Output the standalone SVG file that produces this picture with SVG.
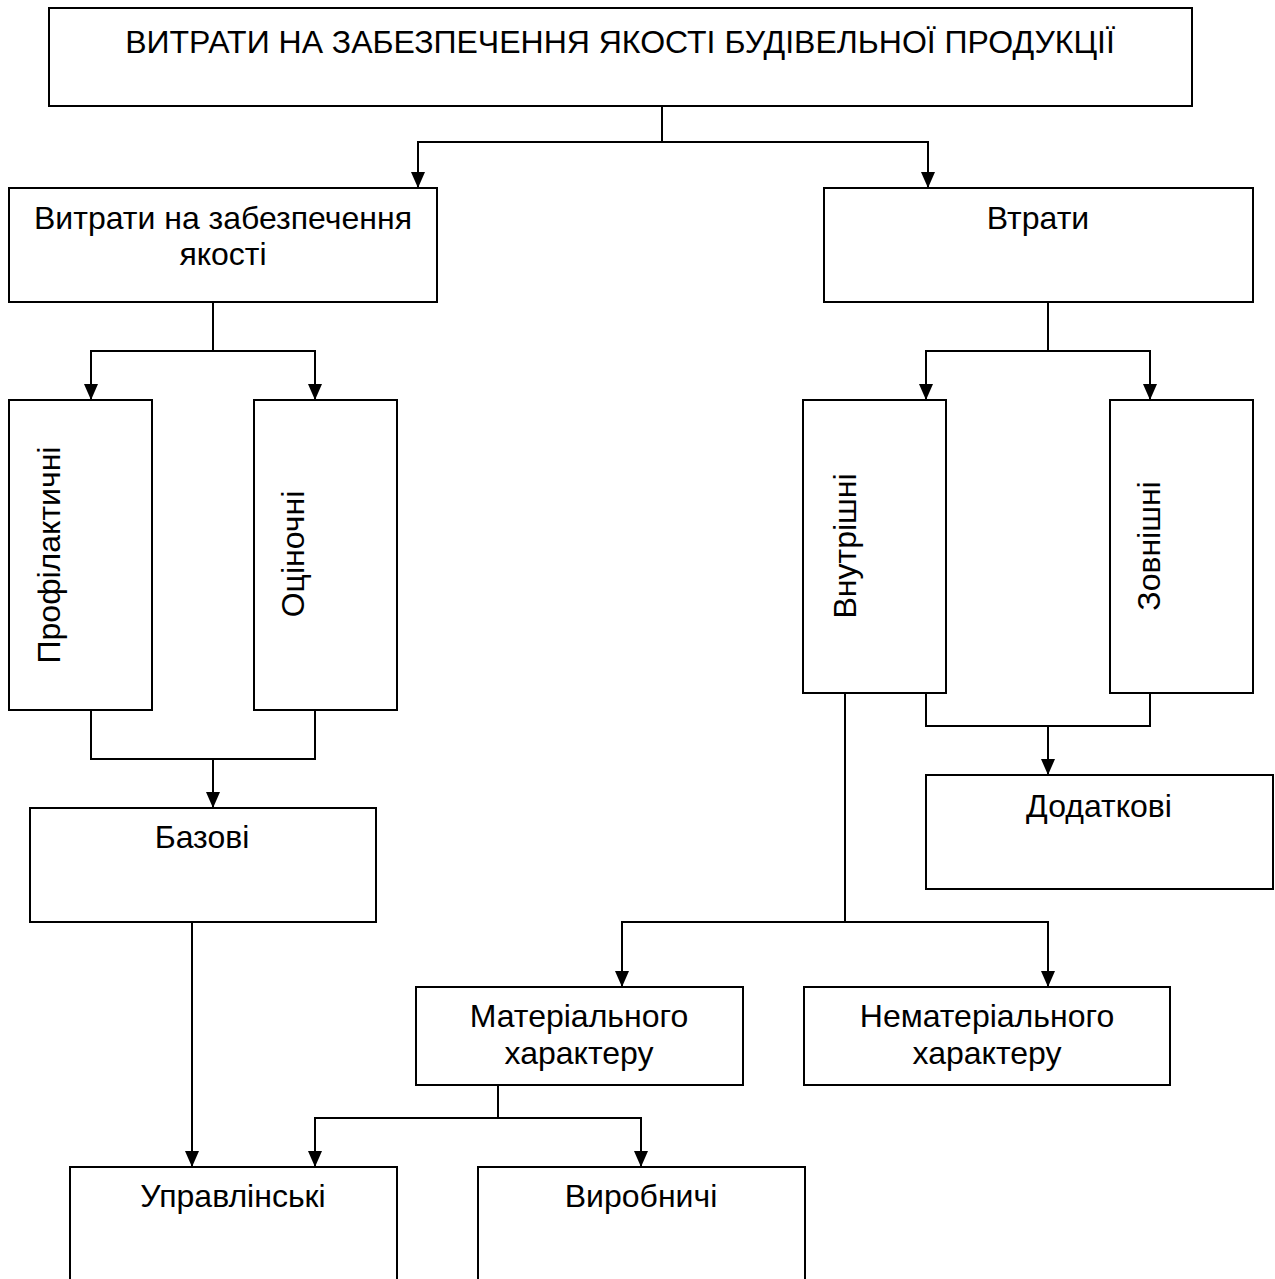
<svg xmlns="http://www.w3.org/2000/svg" width="1275" height="1279" viewBox="0 0 1275 1279">
  <style>
    .box { fill: #ffffff; stroke: #000000; stroke-width: 2; }
    .lbl { font-family: "Liberation Sans", Arial, sans-serif; font-size: 32px; fill: #000000; text-anchor: middle; }
    .wire { fill: none; stroke: #000000; stroke-width: 2; }
  </style>
  <defs>
    <marker id="arrow" viewBox="0 0 16 14" refX="16" refY="7" markerWidth="16" markerHeight="14" markerUnits="userSpaceOnUse" orient="auto">
      <path d="M0,0 L16,7 L0,14 z" fill="#000000"/>
    </marker>
  </defs>
  <rect width="1275" height="1279" fill="#ffffff"/>

  <!-- connectors -->
  <g id="connectors">
    <path class="wire" d="M662,106 V142 H418 V188" marker-end="url(#arrow)"/>
    <path class="wire" d="M662,142 H928 V188" marker-end="url(#arrow)"/>
    <path class="wire" d="M213,302 V351 H91 V400" marker-end="url(#arrow)"/>
    <path class="wire" d="M213,351 H315 V400" marker-end="url(#arrow)"/>
    <path class="wire" d="M1048,302 V351 H926 V400" marker-end="url(#arrow)"/>
    <path class="wire" d="M1048,351 H1150 V400" marker-end="url(#arrow)"/>
    <path class="wire" d="M91,710 V759 H315 V710"/>
    <path class="wire" d="M213,759 V808" marker-end="url(#arrow)"/>
    <path class="wire" d="M926,693 V726 H1150 V693"/>
    <path class="wire" d="M1048,726 V775" marker-end="url(#arrow)"/>
    <path class="wire" d="M845,693 V922 H622 V987" marker-end="url(#arrow)"/>
    <path class="wire" d="M845,922 H1048 V987" marker-end="url(#arrow)"/>
    <path class="wire" d="M498,1085 V1118 H315 V1167" marker-end="url(#arrow)"/>
    <path class="wire" d="M498,1118 H641 V1167" marker-end="url(#arrow)"/>
    <path class="wire" d="M192,922 V1167" marker-end="url(#arrow)"/>
  </g>

  <!-- nodes -->
  <g id="node-root">
    <rect class="box" x="49" y="8" width="1143" height="98"/>
    <text class="lbl" x="620" y="53">ВИТРАТИ НА ЗАБЕЗПЕЧЕННЯ ЯКОСТІ БУДІВЕЛЬНОЇ ПРОДУКЦІЇ</text>
  </g>
  <g id="node-quality-costs">
    <rect class="box" x="9" y="188" width="428" height="114"/>
    <text class="lbl" x="223" y="229">Витрати на забезпечення</text>
    <text class="lbl" x="223" y="265">якості</text>
  </g>
  <g id="node-losses">
    <rect class="box" x="824" y="188" width="429" height="114"/>
    <text class="lbl" x="1038" y="229">Втрати</text>
  </g>
  <g id="node-preventive">
    <rect class="box" x="9" y="400" width="143" height="310"/>
    <text class="lbl" transform="translate(60,555) rotate(-90)">Профілактичні</text>
  </g>
  <g id="node-appraisal">
    <rect class="box" x="254" y="400" width="143" height="310"/>
    <text class="lbl" transform="translate(304,554) rotate(-90)">Оціночні</text>
  </g>
  <g id="node-internal">
    <rect class="box" x="803" y="400" width="143" height="293"/>
    <text class="lbl" transform="translate(856,546) rotate(-90)">Внутрішні</text>
  </g>
  <g id="node-external">
    <rect class="box" x="1110" y="400" width="143" height="293"/>
    <text class="lbl" transform="translate(1160,546) rotate(-90)">Зовнішні</text>
  </g>
  <g id="node-base">
    <rect class="box" x="30" y="808" width="346" height="114"/>
    <text class="lbl" x="202" y="848">Базові</text>
  </g>
  <g id="node-additional">
    <rect class="box" x="926" y="775" width="347" height="114"/>
    <text class="lbl" x="1099" y="817">Додаткові</text>
  </g>
  <g id="node-material">
    <rect class="box" x="416" y="987" width="327" height="98"/>
    <text class="lbl" x="579" y="1027">Матеріального</text>
    <text class="lbl" x="579" y="1064">характеру</text>
  </g>
  <g id="node-nonmaterial">
    <rect class="box" x="804" y="987" width="366" height="98"/>
    <text class="lbl" x="987" y="1027">Нематеріального</text>
    <text class="lbl" x="987" y="1064">характеру</text>
  </g>
  <g id="node-management">
    <rect class="box" x="70" y="1167" width="327" height="140"/>
    <text class="lbl" x="233" y="1207">Управлінські</text>
  </g>
  <g id="node-production">
    <rect class="box" x="478" y="1167" width="327" height="140"/>
    <text class="lbl" x="641" y="1207">Виробничі</text>
  </g>
</svg>
